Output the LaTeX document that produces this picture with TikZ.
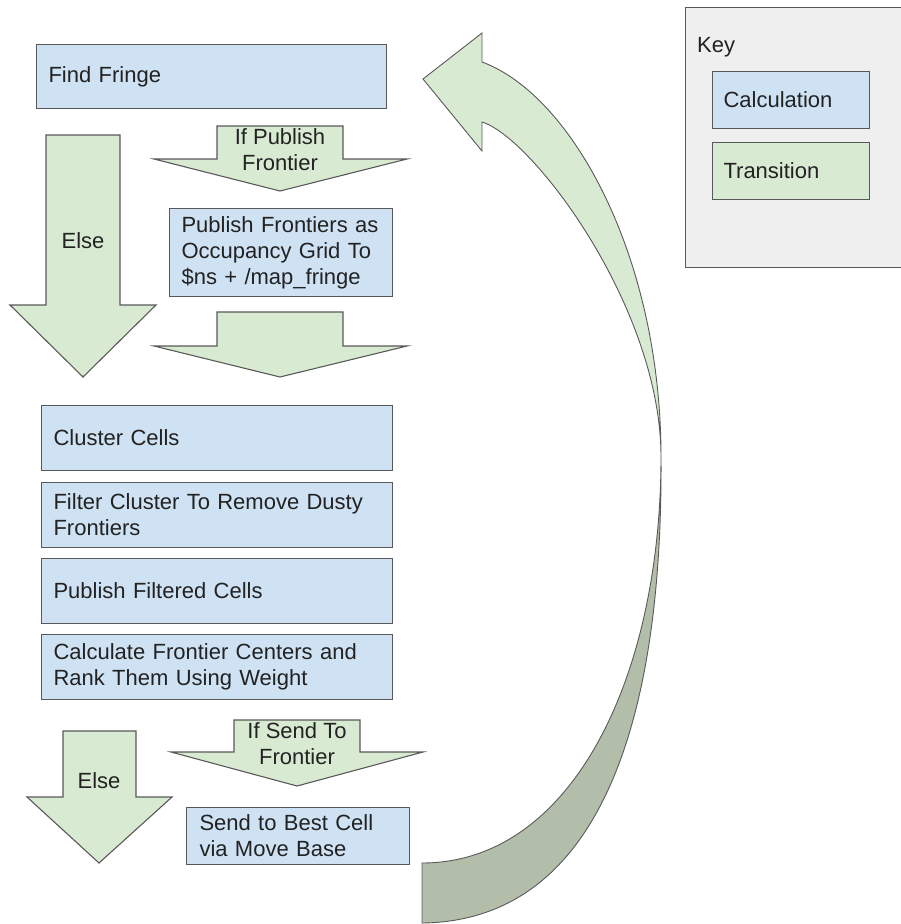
\documentclass[tikz,border=0pt]{standalone}
\usepackage{fontspec}
\setmainfont{Liberation Sans}
\definecolor{calc}{HTML}{CFE2F3}
\definecolor{trans}{HTML}{D9EAD3}
\definecolor{backside}{HTML}{B2BEAA}
\definecolor{keybg}{HTML}{EFEFEF}
\definecolor{edge}{HTML}{595959}
\definecolor{ink}{HTML}{222222}
\begin{document}
\begin{tikzpicture}[x=1pt,y=-1pt,
  font=\fontsize{22}{26}\selectfont, text=ink,
  boxbase/.style={draw=edge, line width=1.1pt, anchor=north west, inner xsep=12pt, inner ysep=0pt, align=left},
  calcbox/.style 2 args={boxbase, fill=calc, text width=#1, minimum height=#2},
  transbox/.style 2 args={boxbase, fill=trans, text width=#1, minimum height=#2},
  blockarrow/.style={draw=edge, fill=trans, line width=1.1pt, line join=miter},
  curvefront/.style={draw=edge, fill=trans, line width=0.9pt, line join=miter},
  curveback/.style={draw=edge, fill=backside, line width=0.9pt, line join=miter},
  lbl/.style={align=center, inner sep=0pt},
  keyframe/.style={draw=edge, fill=keybg, line width=1.1pt, anchor=north west, inner sep=0pt}]
\useasboundingbox (0,0) rectangle (901,924);
\clip (0,0) rectangle (901,924);

% key
\node[keyframe, minimum width=220pt, minimum height=260pt] (keyframe) at (685,7) {};
\node[anchor=west, inner sep=0pt] (keytitle) at (697,47) {Key};
\node[calcbox={135pt}{57pt}, inner xsep=11pt] (keycalc) at (712,71) {Calculation};
\node[transbox={135pt}{57pt}, inner xsep=11pt] (keytrans) at (712,142) {Transition};

% calculation boxes
\node[calcbox={326pt}{64pt}] (ff) at (36,44) {Find Fringe};
\node[calcbox={199pt}{88pt}] (pf) at (169,208) {Publish Frontiers as\\Occupancy Grid To\\\$ns + /map\_fringe};
\node[calcbox={327pt}{65pt}] (cc) at (41,405) {Cluster Cells};
\node[calcbox={327pt}{65pt}] (fc) at (41,482) {Filter Cluster To Remove Dusty\\Frontiers};
\node[calcbox={327pt}{65pt}] (pfc) at (41,558) {Publish Filtered Cells};
\node[calcbox={327pt}{65pt}] (cfc) at (41,634) {Calculate Frontier Centers and\\Rank Them Using Weight};
\node[calcbox={197pt}{57pt}, inner xsep=13pt] (sb) at (186,807) {Send to Best Cell\\via Move Base};

% transition block arrows
\draw[blockarrow] (46,135) -- (120,135) -- (120,305) -- (156,305) -- (83,377) -- (10,305) -- (46,305) -- cycle;
\node[lbl] (else1) at (83,241) {Else};

\draw[blockarrow] (217,126) -- (343,126) -- (343,159) -- (407,159) -- (280,191) -- (154,159) -- (217,159) -- cycle;
\node[lbl] (ifpub) at (280,150) {If Publish\\Frontier};

\draw[blockarrow] (217,312) -- (343,312) -- (343,346) -- (407,346) -- (280,377) -- (154,346) -- (217,346) -- cycle;

\draw[blockarrow] (63,731) -- (136,731) -- (136,797) -- (172,797) -- (99,863) -- (27,797) -- (63,797) -- cycle;
\node[lbl] (else2) at (99,781) {Else};

\draw[blockarrow] (234,720) -- (360,720) -- (360,752) -- (423,752) -- (297,786) -- (171,752) -- (234,752) -- cycle;
\node[lbl] (ifsend) at (297,744) {If Send To\\Frontier};

% curved return arrow
\draw[curveback] (661,457) .. controls (661,677) and (572,863) .. (422,863) -- (422,923)
   .. controls (600,921) and (663,720) .. (661,457) -- cycle;
\draw[curvefront] (423,79) -- (482,33) -- (482,62) .. controls (572,95) and (661,257) .. (661,457)
   .. controls (661,307) and (532,137) .. (482,122) -- (482,151) -- cycle;
\end{tikzpicture}
\end{document}
